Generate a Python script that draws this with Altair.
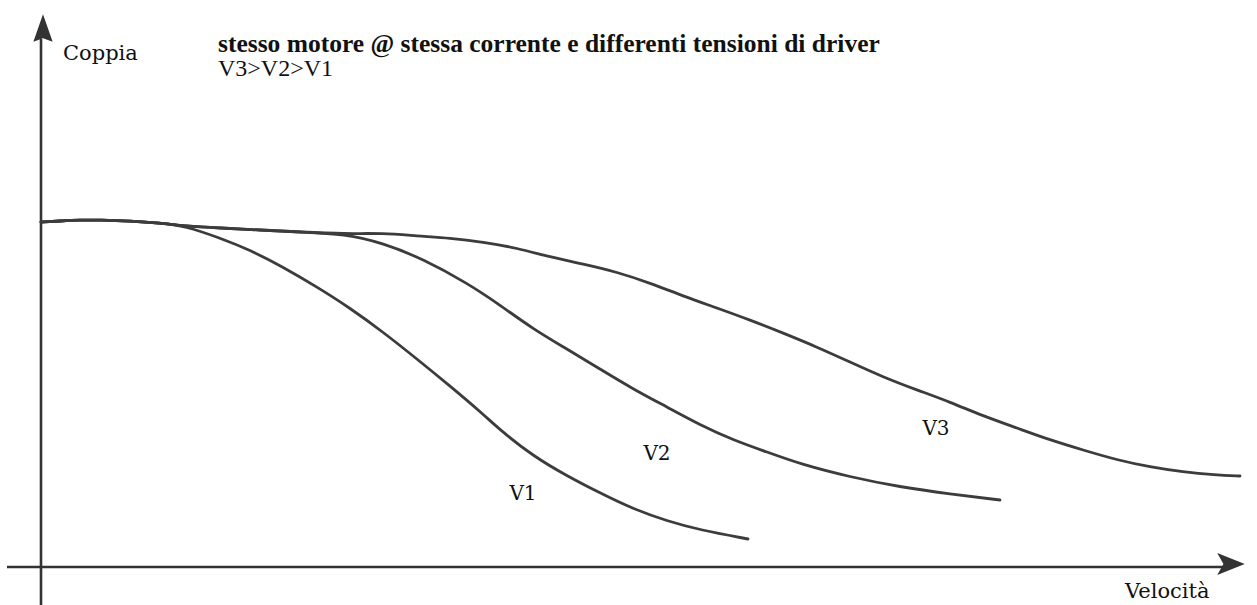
import altair as alt
import pandas as pd

# Torque/speed curves of one stepper motor at equal current, three driver voltages.
# Arbitrary units: speed along the horizontal axis, torque along the vertical one.

# shared low-speed plateau
trunk_speed = [0, 19, 39, 59, 89, 119, 144]
trunk_torque = [345, 346, 347, 347, 346, 344, 341]

# V3: highest voltage, keeps torque longest
v3_speed = [179, 219, 259, 304, 342, 376, 409, 442, 476, 509, 542, 576, 609, 642, 676,
            709, 742, 776, 809, 842, 876, 909, 942, 976, 1009, 1042, 1076, 1109, 1142,
            1174, 1199]
v3_torque = [339, 337, 335, 333, 334, 331, 329, 325, 319, 310, 303, 295, 284, 271, 259,
             247, 234, 220, 205, 190, 177, 165, 151, 139, 127, 117, 107, 100, 95, 92, 91]

# V2: branches off the V3 curve
v2_speed = [342, 382, 426, 459, 492, 526, 559, 592, 626, 659, 692, 726, 759, 809, 859, 909, 959]
v2_torque = [324, 308, 284, 262, 238, 218, 198, 178, 160, 142, 127, 115, 103, 90, 80, 73, 67]

# V1: lowest voltage, drops first
v1_speed = [179, 209, 242, 276, 309, 342, 376, 409, 442, 459, 492, 526, 559, 592, 626, 659, 707]
v1_torque = [329, 317, 300, 280, 259, 235, 208, 181, 153, 137, 111, 91, 74, 58, 46, 37, 28]

curve_names = ["V1", "V2", "V3"]
label_speed = [482, 616, 895]
label_torque = [73, 113, 138]

title_lines = ["stesso motore @ stessa corrente e differenti tensioni di driver", "V3>V2>V1"]
y_axis_title = "Coppia"
x_axis_title = "Velocità"

X_DOMAIN = [-41, 1216]
Y_DOMAIN = [-38, 567]
W, H = 1257, 605
INK = "#3c3c3c"
TEXT = "#111111"


def build_curve(name, speeds, torques):
    return pd.DataFrame({"curve": name, "speed": speeds, "torque": torques,
                         "order": range(len(speeds))})


v2_lead = [s for s in v3_speed if s <= 304]
v2_lead_t = v3_torque[:len(v2_lead)]
curves = pd.concat([
    build_curve("V1", trunk_speed + v1_speed, trunk_torque + v1_torque),
    build_curve("V2", trunk_speed + v2_lead + v2_speed, trunk_torque + v2_lead_t + v2_torque),
    build_curve("V3", trunk_speed + v3_speed, trunk_torque + v3_torque),
])

xs = alt.Scale(domain=X_DOMAIN, nice=False, zero=False)
ys = alt.Scale(domain=Y_DOMAIN, nice=False, zero=False)
X = lambda f: alt.X(f, type="quantitative", scale=xs, axis=None)
Y = lambda f: alt.Y(f, type="quantitative", scale=ys, axis=None)

lines = alt.Chart(curves).mark_line(
    interpolate="basis", color=INK, strokeWidth=2.8, strokeCap="round"
).encode(x=X("speed"), y=Y("torque"), detail="curve:N", order="order:Q")

# axes drawn as data-space rules
axes_df = pd.DataFrame({
    "x1": [-34, 0], "x2": [1184, 0],
    "y1": [0, -38], "y2": [0, 528],
})
axes = alt.Chart(axes_df).mark_rule(color="#333333", strokeWidth=2.6).encode(
    x=X("x1"), x2="x2", y=Y("y1"), y2="y2"
)

arrows_df = pd.DataFrame({
    "x": [2, 1190], "y": [539, 3],
    "shape": ["M0,-1L0.7,1L0,0.75L-0.7,1Z", "M1,0L-1,0.8L-0.55,0L-1,-0.8Z"],
})
arrows = alt.Chart(arrows_df).mark_point(
    filled=True, color="#333333", opacity=1, size=760
).encode(x=X("x"), y=Y("y"), shape=alt.Shape("shape:N", scale=None))

labels_df = pd.DataFrame({"t": curve_names, "x": label_speed, "y": label_torque})
labels = alt.Chart(labels_df).mark_text(
    font="DejaVu Serif", fontSize=20, color=TEXT, align="center", baseline="middle"
).encode(x=X("x"), y=Y("y"), text="t:N")

title_main = alt.Chart(pd.DataFrame({"t": [title_lines[0]], "x": [177], "y": [515]})).mark_text(
    font="Liberation Serif", fontSize=25.5, color=TEXT, align="left",
    baseline="alphabetic", fontWeight="bold"
).encode(x=X("x"), y=Y("y"), text="t:N")

title_sub = alt.Chart(pd.DataFrame({"t": [title_lines[1]], "x": [177], "y": [491]})).mark_text(
    font="Liberation Serif", fontSize=24, color=TEXT, align="left", baseline="alphabetic"
).encode(x=X("x"), y=Y("y"), text="t:N")

axis_titles_df = pd.DataFrame({"t": [y_axis_title, x_axis_title], "x": [22, 1084], "y": [507, -31]})
axis_titles = alt.Chart(axis_titles_df).mark_text(
    font="DejaVu Serif", fontSize=21, color=TEXT, align="left", baseline="alphabetic"
).encode(x=X("x"), y=Y("y"), text="t:N")

chart = alt.layer(axes, arrows, lines, labels, title_main, title_sub, axis_titles).properties(
    width=W, height=H, padding=0, autosize=alt.AutoSizeParams(type="none"),
    background="white"
).configure_view(strokeWidth=0)

chart.save("out.html", embed_options={"renderer": "svg", "actions": False})
